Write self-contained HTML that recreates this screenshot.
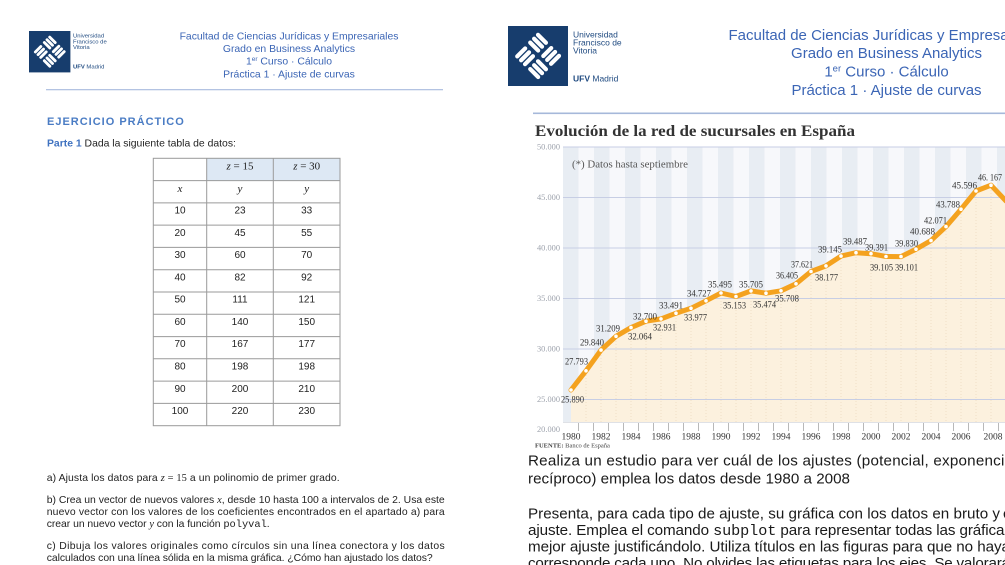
<!DOCTYPE html>
<html><head><meta charset="utf-8">
<style>
html,body{margin:0;padding:0;background:#fff;}
body{width:1005px;height:565px;overflow:hidden;}
svg{display:block;}
</style></head><body>
<svg width="1005" height="565" viewBox="0 0 1005 565" xmlns="http://www.w3.org/2000/svg">
<defs>
<g id="logo">
 <rect width="60" height="60" fill="#173d6d"/>
 <g transform="translate(30 30) rotate(45) scale(1.1)" fill="#fff">
  <rect x="-15.5" y="-15.5" width="14" height="3.8" rx="1.9"/>
  <rect x="-15.5" y="-10.5" width="14" height="3.8" rx="1.9"/>
  <rect x="-15.5" y="-5.5" width="14" height="3.8" rx="1.9"/>
  <rect x="1.5" y="-15.5" width="3.8" height="14" rx="1.9"/>
  <rect x="6.5" y="-15.5" width="3.8" height="14" rx="1.9"/>
  <rect x="11.5" y="-15.5" width="3.8" height="14" rx="1.9"/>
  <rect x="-15" y="1.5" width="3.8" height="14" rx="1.9"/>
  <rect x="-10" y="1.5" width="3.8" height="14" rx="1.9"/>
  <rect x="-5" y="1.5" width="3.8" height="14" rx="1.9"/>
  <rect x="1.5" y="1.5" width="14" height="3.8" rx="1.9"/>
  <rect x="1.5" y="6.5" width="14" height="3.8" rx="1.9"/>
  <rect x="1.5" y="11.5" width="14" height="3.8" rx="1.9"/>
 </g>
</g>
</defs>
<rect width="1005" height="565" fill="#fff"/>

<!-- ================= LEFT PAGE ================= -->
<use href="#logo" transform="translate(29 31) scale(0.69)"/>
<g font-family="Liberation Sans, Arial, sans-serif" fill="#1f4a80" font-size="5.9">
 <text x="73" y="37.6">Universidad</text>
 <text x="73" y="43.5">Francisco de</text>
 <text x="73" y="49.2">Vitoria</text>
 <text x="73" y="68.5"><tspan font-weight="bold">UFV</tspan> Madrid</text>
</g>
<g font-family="Liberation Sans, Arial, sans-serif" fill="#3b65b5" font-size="10.4" text-anchor="middle">
 <text x="289" y="39.3">Facultad de Ciencias Jurídicas y Empresariales</text>
 <text x="289" y="52">Grado en Business Analytics</text>
 <text x="289" y="64.7">1<tspan font-size="6.5" dy="-3.5">er</tspan><tspan dy="3.5"> Curso · Cálculo</tspan></text>
 <text x="289" y="77.4">Práctica 1 · Ajuste de curvas</text>
</g>
<rect x="46" y="89" width="397" height="1.3" fill="#b3c3e2"/>

<text x="47" y="125" font-family="Liberation Sans, Arial, sans-serif" font-weight="bold" font-size="11" letter-spacing="1" fill="#4a7cc4">EJERCICIO PRÁCTICO</text>
<text x="47" y="146.7" font-family="Liberation Sans, Arial, sans-serif" font-size="10.4" fill="#222"><tspan font-weight="bold" fill="#3f72c0">Parte 1</tspan> Dada la siguiente tabla de datos:</text>

<!-- table -->
<rect x="206.7" y="158.3" width="133.3" height="22.3" fill="#dde8f4"/>
<g stroke="#9a9a9a" stroke-width="1" fill="none">
 <rect x="153.3" y="158.3" width="186.7" height="267.4"/>
 <line x1="206.7" y1="158.3" x2="206.7" y2="425.7"/>
 <line x1="273.3" y1="158.3" x2="273.3" y2="425.7"/>
 <line x1="153.3" y1="180.6" x2="340" y2="180.6"/>
 <line x1="153.3" y1="202.9" x2="340" y2="202.9"/>
 <line x1="153.3" y1="225.1" x2="340" y2="225.1"/>
 <line x1="153.3" y1="247.4" x2="340" y2="247.4"/>
 <line x1="153.3" y1="269.7" x2="340" y2="269.7"/>
 <line x1="153.3" y1="292" x2="340" y2="292"/>
 <line x1="153.3" y1="314.3" x2="340" y2="314.3"/>
 <line x1="153.3" y1="336.6" x2="340" y2="336.6"/>
 <line x1="153.3" y1="358.8" x2="340" y2="358.8"/>
 <line x1="153.3" y1="381.1" x2="340" y2="381.1"/>
 <line x1="153.3" y1="403.4" x2="340" y2="403.4"/>
</g>
<g font-family="Liberation Serif, Times New Roman, serif" font-size="11" fill="#222" text-anchor="middle">
 <text x="240" y="169.5"><tspan font-style="italic">z</tspan> = 15</text>
 <text x="306.7" y="169.5"><tspan font-style="italic">z</tspan> = 30</text>
 <text x="180" y="191.8" font-style="italic">x</text>
 <text x="240" y="191.8" font-style="italic">y</text>
 <text x="306.7" y="191.8" font-style="italic">y</text>
</g>
<g font-family="Liberation Sans, Arial, sans-serif" font-size="10" fill="#222" text-anchor="middle">
 <text x="180" y="213.5">10</text><text x="240" y="213.5">23</text><text x="306.7" y="213.5">33</text>
 <text x="180" y="235.8">20</text><text x="240" y="235.8">45</text><text x="306.7" y="235.8">55</text>
 <text x="180" y="258.1">30</text><text x="240" y="258.1">60</text><text x="306.7" y="258.1">70</text>
 <text x="180" y="280.4">40</text><text x="240" y="280.4">82</text><text x="306.7" y="280.4">92</text>
 <text x="180" y="302.7">50</text><text x="240" y="302.7">111</text><text x="306.7" y="302.7">121</text>
 <text x="180" y="325">60</text><text x="240" y="325">140</text><text x="306.7" y="325">150</text>
 <text x="180" y="347.2">70</text><text x="240" y="347.2">167</text><text x="306.7" y="347.2">177</text>
 <text x="180" y="369.5">80</text><text x="240" y="369.5">198</text><text x="306.7" y="369.5">198</text>
 <text x="180" y="391.8">90</text><text x="240" y="391.8">200</text><text x="306.7" y="391.8">210</text>
 <text x="180" y="414.1">100</text><text x="240" y="414.1">220</text><text x="306.7" y="414.1">230</text>
</g>

<!-- left bottom text -->
<g font-family="Liberation Sans, Arial, sans-serif" font-size="10.4" fill="#222">
 <text x="46.7" y="481" textLength="293" lengthAdjust="spacing">a)  Ajusta los datos para <tspan font-family="Liberation Serif, serif" font-style="italic">z</tspan><tspan font-family="Liberation Serif, serif"> = 15</tspan> a un polinomio de primer grado.</text>
 <text x="46.7" y="503" textLength="398" lengthAdjust="spacing">b)  Crea un vector de nuevos valores <tspan font-family="Liberation Serif, serif" font-style="italic">x</tspan>, desde 10 hasta 100 a intervalos de 2. Usa este</text>
 <text x="46.7" y="515" textLength="398" lengthAdjust="spacing">nuevo vector con los valores de los coeficientes encontrados en el apartado a) para</text>
 <text x="46.7" y="527" textLength="223" lengthAdjust="spacing">crear un nuevo vector <tspan font-family="Liberation Serif, serif" font-style="italic">y</tspan> con la función <tspan font-family="Liberation Mono, monospace">polyval</tspan>.</text>
 <text x="46.7" y="549" textLength="398" lengthAdjust="spacing">c)  Dibuja los valores originales como círculos sin una línea conectora y los datos</text>
 <text x="46.7" y="561" textLength="386" lengthAdjust="spacing">calculados con una línea sólida en la misma gráfica. ¿Cómo han ajustado los datos?</text>
</g>

<!-- ================= RIGHT PAGE ================= -->
<use href="#logo" transform="translate(508 26)"/>
<g font-family="Liberation Sans, Arial, sans-serif" fill="#1f4a80" font-size="8.5">
 <text x="573" y="37.3">Universidad</text>
 <text x="573" y="45.7">Francisco de</text>
 <text x="573" y="53.3">Vitoria</text>
 <text x="573" y="81.5"><tspan font-weight="bold">UFV</tspan> Madrid</text>
</g>
<g font-family="Liberation Sans, Arial, sans-serif" fill="#3b65b5" font-size="15" text-anchor="middle">
 <text x="886.5" y="40">Facultad de Ciencias Jurídicas y Empresariales</text>
 <text x="886.5" y="58">Grado en Business Analytics</text>
 <text x="886.5" y="76.5">1<tspan font-size="9.5" dy="-5">er</tspan><tspan dy="5"> Curso · Cálculo</tspan></text>
 <text x="886.5" y="95">Práctica 1 · Ajuste de curvas</text>
</g>
<rect x="533" y="112.5" width="472" height="1.6" fill="#a6b8da"/>

<!-- chart -->
<text x="535" y="136" font-family="Liberation Serif, Times New Roman, serif" font-weight="bold" font-size="15.5" fill="#333" textLength="320" lengthAdjust="spacingAndGlyphs">Evolución de la red de sucursales en España</text>

<rect x="563" y="147" width="442" height="275" fill="#f7f8fb"/>
<g fill="#e8edf3">
 <rect x="563" y="147" width="15.5" height="275"/>
 <rect x="594" y="147" width="15.5" height="275"/>
 <rect x="625" y="147" width="15.5" height="275"/>
 <rect x="656" y="147" width="15.5" height="275"/>
 <rect x="687" y="147" width="15.5" height="275"/>
 <rect x="718" y="147" width="15.5" height="275"/>
 <rect x="749" y="147" width="15.5" height="275"/>
 <rect x="780" y="147" width="15.5" height="275"/>
 <rect x="811" y="147" width="15.5" height="275"/>
 <rect x="842" y="147" width="15.5" height="275"/>
 <rect x="873" y="147" width="15.5" height="275"/>
 <rect x="904" y="147" width="15.5" height="275"/>
 <rect x="935" y="147" width="15.5" height="275"/>
 <rect x="966" y="147" width="15.5" height="275"/>
 <rect x="997" y="147" width="15.5" height="275"/>
</g>

<polygon fill="#fcf1de" points="571,422 571,390 586,370.8 601,350.1 616,336.3 631,327.6 646,321.2 661,318.9 676,313.2 691,308.3 706,300.8 721,293 736,296.5 751,290.9 766,293.2 781,290.8 796,283.8 811,271.5 826,265.9 841,256.1 856,252.7 871,253.7 886,256.5 901,256.6 916,249.2 931,240.6 946,226.6 961,209.2 976,191 991,185.2 1006,201 1006,422"/>

<g stroke="#ead9bd" stroke-width="0.7" stroke-dasharray="1 2">
 <line x1="586" y1="372" x2="586" y2="422"/><line x1="601" y1="352" x2="601" y2="422"/>
 <line x1="616" y1="338" x2="616" y2="422"/><line x1="631" y1="329" x2="631" y2="422"/>
 <line x1="646" y1="323" x2="646" y2="422"/><line x1="661" y1="320" x2="661" y2="422"/>
 <line x1="676" y1="315" x2="676" y2="422"/><line x1="691" y1="310" x2="691" y2="422"/>
 <line x1="706" y1="302" x2="706" y2="422"/><line x1="721" y1="295" x2="721" y2="422"/>
 <line x1="736" y1="298" x2="736" y2="422"/><line x1="751" y1="292" x2="751" y2="422"/>
 <line x1="766" y1="295" x2="766" y2="422"/><line x1="781" y1="292" x2="781" y2="422"/>
 <line x1="796" y1="285" x2="796" y2="422"/><line x1="811" y1="273" x2="811" y2="422"/>
 <line x1="826" y1="267" x2="826" y2="422"/><line x1="841" y1="258" x2="841" y2="422"/>
 <line x1="856" y1="254" x2="856" y2="422"/><line x1="871" y1="255" x2="871" y2="422"/>
 <line x1="886" y1="258" x2="886" y2="422"/><line x1="901" y1="258" x2="901" y2="422"/>
 <line x1="916" y1="251" x2="916" y2="422"/><line x1="931" y1="242" x2="931" y2="422"/>
 <line x1="946" y1="228" x2="946" y2="422"/><line x1="961" y1="211" x2="961" y2="422"/>
 <line x1="976" y1="193" x2="976" y2="422"/><line x1="991" y1="187" x2="991" y2="422"/>
</g>

<g stroke="#c7cee4" stroke-width="1">
 <line x1="563" y1="147" x2="1005" y2="147"/>
 <line x1="563" y1="197.5" x2="1005" y2="197.5"/>
 <line x1="563" y1="248" x2="1005" y2="248"/>
 <line x1="563" y1="298.5" x2="1005" y2="298.5"/>
 <line x1="563" y1="349" x2="1005" y2="349"/>
 <line x1="563" y1="399.5" x2="1005" y2="399.5"/>
</g>
<line x1="563" y1="422.5" x2="1005" y2="422.5" stroke="#d4d7de" stroke-width="0.8"/>
<g stroke="#a8a8a8" stroke-width="0.8">
 <line x1="578.5" y1="423" x2="578.5" y2="431"/><line x1="593.5" y1="423" x2="593.5" y2="431"/>
 <line x1="608.5" y1="423" x2="608.5" y2="431"/><line x1="623.5" y1="423" x2="623.5" y2="431"/>
 <line x1="638.5" y1="423" x2="638.5" y2="431"/><line x1="653.5" y1="423" x2="653.5" y2="431"/>
 <line x1="668.5" y1="423" x2="668.5" y2="431"/><line x1="683.5" y1="423" x2="683.5" y2="431"/>
 <line x1="698.5" y1="423" x2="698.5" y2="431"/><line x1="713.5" y1="423" x2="713.5" y2="431"/>
 <line x1="728.5" y1="423" x2="728.5" y2="431"/><line x1="743.5" y1="423" x2="743.5" y2="431"/>
 <line x1="758.5" y1="423" x2="758.5" y2="431"/><line x1="773.5" y1="423" x2="773.5" y2="431"/>
 <line x1="788.5" y1="423" x2="788.5" y2="431"/><line x1="803.5" y1="423" x2="803.5" y2="431"/>
 <line x1="818.5" y1="423" x2="818.5" y2="431"/><line x1="833.5" y1="423" x2="833.5" y2="431"/>
 <line x1="848.5" y1="423" x2="848.5" y2="431"/><line x1="863.5" y1="423" x2="863.5" y2="431"/>
 <line x1="878.5" y1="423" x2="878.5" y2="431"/><line x1="893.5" y1="423" x2="893.5" y2="431"/>
 <line x1="908.5" y1="423" x2="908.5" y2="431"/><line x1="923.5" y1="423" x2="923.5" y2="431"/>
 <line x1="938.5" y1="423" x2="938.5" y2="431"/><line x1="953.5" y1="423" x2="953.5" y2="431"/>
 <line x1="968.5" y1="423" x2="968.5" y2="431"/><line x1="983.5" y1="423" x2="983.5" y2="431"/>
 <line x1="998.5" y1="423" x2="998.5" y2="431"/>
</g>

<polyline fill="none" stroke="#f4a21f" stroke-width="5" stroke-linejoin="round" stroke-linecap="round" points="571,390 586,370.8 601,350.1 616,336.3 631,327.6 646,321.2 661,318.9 676,313.2 691,308.3 706,300.8 721,293 736,296.5 751,290.9 766,293.2 781,290.8 796,283.8 811,271.5 826,265.9 841,256.1 856,252.7 871,253.7 886,256.5 901,256.6 916,249.2 931,240.6 946,226.6 961,209.2 976,191 991,185.2 1006,201"/>
<g fill="#fff">
 <circle cx="571" cy="390" r="1.8"/><circle cx="586" cy="370.8" r="1.8"/><circle cx="601" cy="350.1" r="1.8"/>
 <circle cx="616" cy="336.3" r="1.8"/><circle cx="631" cy="327.6" r="1.8"/><circle cx="646" cy="321.2" r="1.8"/>
 <circle cx="661" cy="318.9" r="1.8"/><circle cx="676" cy="313.2" r="1.8"/><circle cx="691" cy="308.3" r="1.8"/>
 <circle cx="706" cy="300.8" r="1.8"/><circle cx="721" cy="293" r="1.8"/><circle cx="736" cy="296.5" r="1.8"/>
 <circle cx="751" cy="290.9" r="1.8"/><circle cx="766" cy="293.2" r="1.8"/><circle cx="781" cy="290.8" r="1.8"/>
 <circle cx="796" cy="283.8" r="1.8"/><circle cx="811" cy="271.5" r="1.8"/><circle cx="826" cy="265.9" r="1.8"/>
 <circle cx="841" cy="256.1" r="1.8"/><circle cx="856" cy="252.7" r="1.8"/><circle cx="871" cy="253.7" r="1.8"/>
 <circle cx="886" cy="256.5" r="1.8"/><circle cx="901" cy="256.6" r="1.8"/><circle cx="916" cy="249.2" r="1.8"/>
 <circle cx="931" cy="240.6" r="1.8"/><circle cx="946" cy="226.6" r="1.8"/><circle cx="961" cy="209.2" r="1.8"/>
 <circle cx="976" cy="191" r="1.8"/><circle cx="991" cy="185.2" r="1.8"/>
</g>

<!-- y axis labels -->
<g font-family="Liberation Serif, Times New Roman, serif" font-size="8" fill="#9ea3ad">
 <text x="537" y="149.5" textLength="23" lengthAdjust="spacingAndGlyphs">50.000</text>
 <text x="537" y="200" textLength="23" lengthAdjust="spacingAndGlyphs">45.000</text>
 <text x="537" y="250.5" textLength="23" lengthAdjust="spacingAndGlyphs">40.000</text>
 <text x="537" y="301" textLength="23" lengthAdjust="spacingAndGlyphs">35.000</text>
 <text x="537" y="351.5" textLength="23" lengthAdjust="spacingAndGlyphs">30.000</text>
 <text x="537" y="402" textLength="23" lengthAdjust="spacingAndGlyphs">25.000</text>
 <text x="537" y="432" textLength="23" lengthAdjust="spacingAndGlyphs">20.000</text>
</g>

<text x="572" y="167.5" font-family="Liberation Serif, Times New Roman, serif" font-size="11" fill="#555" textLength="116" lengthAdjust="spacingAndGlyphs">(*) Datos hasta septiembre</text>

<!-- data labels -->
<g font-family="Liberation Serif, Times New Roman, serif" font-size="9.5" fill="#333">
 <text x="561" y="402.3" textLength="23" lengthAdjust="spacingAndGlyphs">25.890</text>
 <text x="565" y="364.3" textLength="23" lengthAdjust="spacingAndGlyphs">27.793</text>
 <text x="580" y="345.3" textLength="24" lengthAdjust="spacingAndGlyphs">29.840</text>
 <text x="596" y="331.3" textLength="24" lengthAdjust="spacingAndGlyphs">31.209</text>
 <text x="628" y="339.3" textLength="24" lengthAdjust="spacingAndGlyphs">32.064</text>
 <text x="633" y="319.3" textLength="24" lengthAdjust="spacingAndGlyphs">32.700</text>
 <text x="653" y="330.3" textLength="23" lengthAdjust="spacingAndGlyphs">32.931</text>
 <text x="659" y="308.3" textLength="24" lengthAdjust="spacingAndGlyphs">33.491</text>
 <text x="684" y="320.3" textLength="23" lengthAdjust="spacingAndGlyphs">33.977</text>
 <text x="687" y="296.3" textLength="24" lengthAdjust="spacingAndGlyphs">34.727</text>
 <text x="708" y="287.3" textLength="24" lengthAdjust="spacingAndGlyphs">35.495</text>
 <text x="723" y="308.3" textLength="23" lengthAdjust="spacingAndGlyphs">35.153</text>
 <text x="739" y="287.3" textLength="24" lengthAdjust="spacingAndGlyphs">35.705</text>
 <text x="753" y="307.3" textLength="23" lengthAdjust="spacingAndGlyphs">35.474</text>
 <text x="775" y="301.3" textLength="24" lengthAdjust="spacingAndGlyphs">35.708</text>
 <text x="776" y="278.3" textLength="22" lengthAdjust="spacingAndGlyphs">36.405</text>
 <text x="791" y="267.3" textLength="22" lengthAdjust="spacingAndGlyphs">37.621</text>
 <text x="815" y="280.3" textLength="23" lengthAdjust="spacingAndGlyphs">38.177</text>
 <text x="818" y="252.3" textLength="24" lengthAdjust="spacingAndGlyphs">39.145</text>
 <text x="843" y="244.3" textLength="24" lengthAdjust="spacingAndGlyphs">39.487</text>
 <text x="865" y="250.3" textLength="23" lengthAdjust="spacingAndGlyphs">39.391</text>
 <text x="870" y="270.3" textLength="23" lengthAdjust="spacingAndGlyphs">39.105</text>
 <text x="895" y="270.3" textLength="23" lengthAdjust="spacingAndGlyphs">39.101</text>
 <text x="895" y="246.3" textLength="23" lengthAdjust="spacingAndGlyphs">39.830</text>
 <text x="910" y="234.3" textLength="25" lengthAdjust="spacingAndGlyphs">40.688</text>
 <text x="924" y="223.3" textLength="23" lengthAdjust="spacingAndGlyphs">42.071</text>
 <text x="936" y="207.3" textLength="24" lengthAdjust="spacingAndGlyphs">43.788</text>
 <text x="952" y="188.3" textLength="25" lengthAdjust="spacingAndGlyphs">45.596</text>
 <text x="978" y="180.3" textLength="24" lengthAdjust="spacingAndGlyphs">46. 167</text>
</g>

<!-- x axis labels -->
<g font-family="Liberation Serif, Times New Roman, serif" font-size="9.5" fill="#333" text-anchor="middle">
 <text x="571" y="439.5">1980</text><text x="601" y="439.5">1982</text><text x="631" y="439.5">1984</text>
 <text x="661" y="439.5">1986</text><text x="691" y="439.5">1988</text><text x="721" y="439.5">1990</text>
 <text x="751" y="439.5">1992</text><text x="781" y="439.5">1994</text><text x="811" y="439.5">1996</text>
 <text x="841" y="439.5">1998</text><text x="871" y="439.5">2000</text><text x="901" y="439.5">2002</text>
 <text x="931" y="439.5">2004</text><text x="961" y="439.5">2006</text><text x="993" y="439.5">2008</text>
</g>
<text x="535" y="447.5" font-family="Liberation Serif, Times New Roman, serif" font-size="6.5" fill="#444"><tspan font-weight="bold">FUENTE:</tspan> Banco de España</text>

<!-- right bottom text -->
<g font-family="Liberation Sans, Arial, sans-serif" font-size="15.2" fill="#1a1a1a">
 <text x="528" y="465.5" textLength="493" lengthAdjust="spacing">Realiza un estudio para ver cuál de los ajustes (potencial, exponencial,</text>
 <text x="528" y="483.5" textLength="322" lengthAdjust="spacing">recíproco) emplea los datos desde 1980 a 2008</text>
 <text x="528" y="518.5" textLength="472" lengthAdjust="spacing">Presenta, para cada tipo de ajuste, su gráfica con los datos en bruto y</text>
 <text x="1003" y="518.5">con</text>
 <text x="528" y="535" textLength="484" lengthAdjust="spacing">ajuste. Emplea el comando <tspan font-family="Liberation Mono, monospace">subplot</tspan> para representar todas las gráficas</text>
 <text x="528" y="551.5" textLength="482" lengthAdjust="spacing">mejor ajuste justificándolo. Utiliza títulos en las figuras para que no haya</text>
 <text x="528" y="568" textLength="482" lengthAdjust="spacing">corresponde cada uno. No olvides las etiquetas para los ejes. Se valorará</text>
</g>
</svg>
</body></html>
